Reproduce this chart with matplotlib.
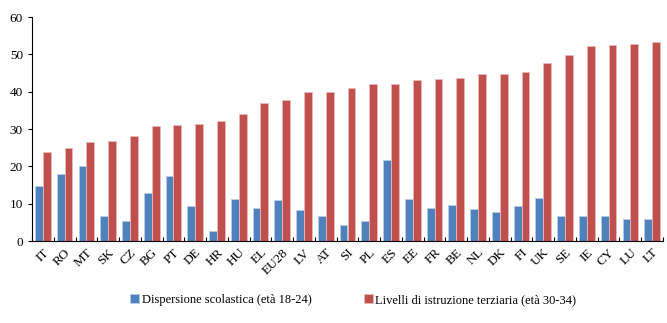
import matplotlib
matplotlib.use("Agg")
import matplotlib.pyplot as plt
import numpy as np

countries = ["IT", "RO", "MT", "SK", "CZ", "BG", "PT", "DE", "HR", "HU", "EL", "EU28", "LV", "AT",
             "SI", "PL", "ES", "EE", "FR", "BE", "NL", "DK", "FI", "UK", "SE", "IE", "CY", "LU", "LT"]
dispersione = [14.8, 18.0, 20.2, 6.6, 5.4, 12.8, 17.3, 9.4, 2.6, 11.3, 8.9, 11.1, 8.4, 6.8,
               4.2, 5.3, 21.7, 11.3, 8.9, 9.7, 8.6, 7.7, 9.4, 11.6, 6.6, 6.7, 6.7, 5.9, 5.8]
terziaria = [23.8, 24.9, 26.4, 26.7, 28.1, 30.8, 31.2, 31.3, 32.1, 34.0, 37.0, 37.8, 39.8, 39.9,
             40.9, 42.0, 42.1, 43.1, 43.5, 43.7, 44.7, 44.8, 45.2, 47.7, 49.8, 52.1, 52.4, 52.7, 53.3]
labels = ["Dispersione scolastica (età 18-24)", "Livelli di istruzione terziaria (età 30-34)"]

plt.rcParams['font.family'] = ['Liberation Serif', 'DejaVu Serif']

fig = plt.figure(figsize=(6.67, 3.23), dpi=100)
ax = fig.add_axes([32/667, 1 - 241/323, 631/667, 224/323])

x = np.arange(len(countries))
w = 0.36
ax.bar(x - w/2, dispersione, w, color="#4F81BD", edgecolor="#B9CDE5", linewidth=0.6, label=labels[0])
ax.bar(x + w/2, terziaria, w, color="#C0504D", edgecolor="#E6B9B8", linewidth=0.6, label=labels[1])

ax.set_xlim(-0.5, len(countries) - 0.5)
ax.set_ylim(0, 60)
ax.set_yticks(range(0, 61, 10))
ax.spines['top'].set_visible(False)
ax.spines['right'].set_visible(False)
ax.spines['left'].set_linewidth(0.8)
ax.spines['bottom'].set_linewidth(0.8)

ax.set_xticks(x)
ax.set_xticklabels(countries, rotation=45, ha='right', rotation_mode='anchor', fontsize=9.5)
ax.tick_params(axis='x', length=0, pad=4)
ax.set_xticks(np.arange(-0.5, len(countries), 1), minor=True)
ax.tick_params(axis='x', which='minor', length=3, direction='in', width=0.8)
ax.tick_params(axis='y', length=3, direction='out', labelsize=9.5, width=0.8)

ax.legend(loc='center', bbox_to_anchor=(0.509, -0.263), ncol=2, frameon=False,
          fontsize=9, handlelength=0.7, handleheight=0.7, handletextpad=0.2, columnspacing=4.2)

fig.savefig("out.png", dpi=100)
